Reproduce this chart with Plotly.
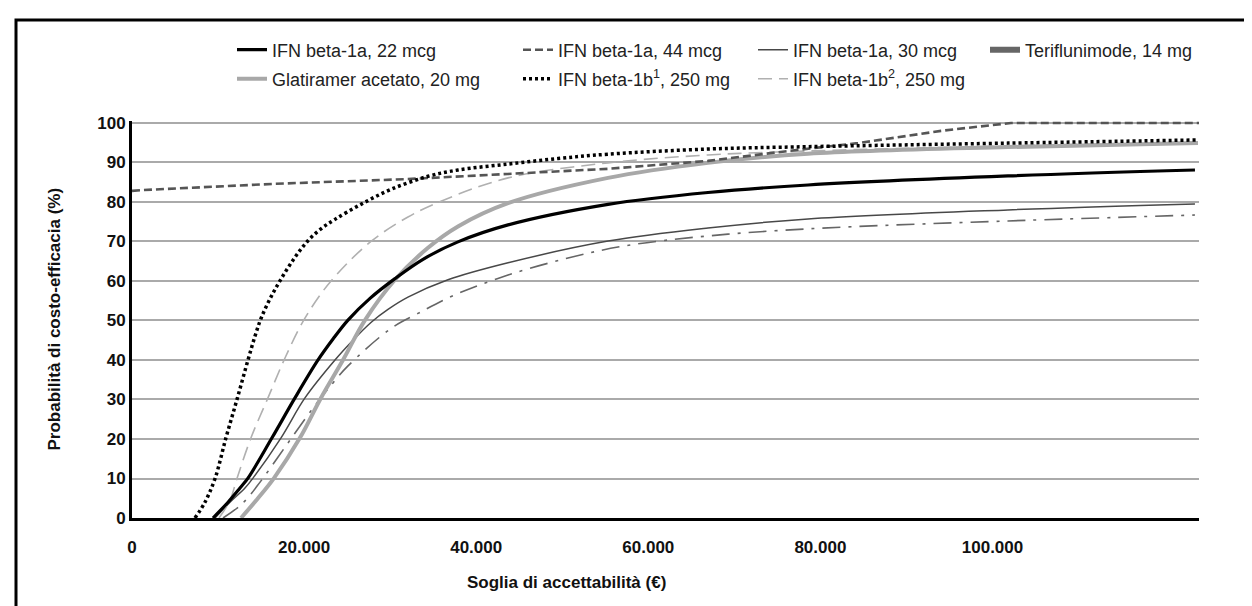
import plotly.graph_objects as go

# ---- data (x = soglia in €, y = probabilità in %) ----
x_b1a22 = [9410, 11160, 12550, 13480, 16270, 18940, 21620, 23360, 25100, 27660, 30560, 33820, 37880, 43700, 55320, 66940, 78560, 101800, 123530]
y_b1a22 = [0, 4, 7.6, 10.1, 20.3, 30.4, 40, 45.3, 50.1, 55.6, 60.6, 65.5, 69.9, 74.2, 79.4, 82.4, 84.3, 86.6, 88.1]

x_b1a44 = [0, 1050, 16620, 32070, 43700, 55320, 66940, 76230, 84370, 94020, 102150, 124000]
y_b1a44 = [82.8, 83.0, 84.6, 85.8, 87.1, 88.4, 90.4, 92.9, 94.9, 98, 100, 100]

x_b1a30 = [9650, 11390, 13130, 14060, 17320, 20100, 23590, 25680, 27770, 29750, 32070, 36720, 43700, 55320, 66940, 78560, 101800, 123530]
y_b1a30 = [0, 4, 7.6, 10.1, 20.3, 30.4, 40, 45, 49.5, 52.8, 55.9, 60.3, 64.6, 70.1, 73.4, 75.7, 78, 79.5]

x_teri = [10580, 12900, 14990, 18130, 21030, 23360, 25100, 30100, 33240, 37540, 43700, 50670, 57290, 66940, 78560, 101800, 123530]
y_teri = [0, 3.8, 9.4, 19, 27.8, 34.2, 38.5, 48.0, 51.8, 56.5, 61.5, 65.8, 68.9, 71.4, 73.2, 75.2, 76.7]

x_glat = [12670, 14640, 16500, 19520, 21960, 24520, 27080, 30560, 34400, 37880, 43700, 55320, 66940, 78560, 101800, 123880]
y_glat = [0, 5, 10.1, 20.3, 30.4, 40, 50.1, 60.3, 68.4, 73.8, 79.7, 86.1, 89.9, 92.2, 93.9, 94.9]

x_b1b1 = [7320, 8480, 9650, 10920, 12200, 13480, 14290, 14990, 16040, 17320, 18940, 20450, 21960, 23590, 26610, 30100, 34400, 37880, 43700, 49510, 55320, 66940, 78560, 101800, 123880]
y_b1b1 = [0, 4, 10, 20.3, 30, 40, 46, 50.5, 55.5, 60.5, 66, 70.2, 73.2, 75.6, 79.4, 83.2, 86.5, 88.1, 89.6, 91.0, 92.1, 93.4, 94.0, 94.9, 95.7]

x_b1b2 = [10110, 11390, 12200, 13830, 15800, 17780, 20100, 23130, 27770, 32070, 35910, 43700, 55320, 66940, 78560, 101800, 123880]
y_b1b2 = [0, 4.5, 10, 20.3, 30.4, 40.5, 50.6, 60, 70, 76.2, 80.2, 86.1, 89.9, 91.9, 92.9, 94.2, 95.2]

x_tickvals = [0, 20000, 40000, 60000, 80000, 100000]
x_ticktext = ["0", "20.000", "40.000", "60.000", "80.000", "100.000"]
y_tickvals = [0, 10, 20, 30, 40, 50, 60, 70, 80, 90, 100]

FONT = "Liberation Sans"

fig = go.Figure()

def add(x, y, name, color, width, dash, legend, shape="spline", showlegend=True):
    fig.add_trace(go.Scatter(
        x=x, y=y, mode="lines", name=name,
        line=dict(color=color, width=width, dash=dash, shape=shape,
                  smoothing=1.0 if shape == "spline" else None),
        legend=legend, showlegend=showlegend, hoverinfo="skip"))

# drawing order: back to front
add(x_teri, y_teri, "Teriflunimode, 14 mg (curve)", "#666666", 1.6, "18px,8px,3px,8px", "legend4", showlegend=False)
add(x_b1a30, y_b1a30, "IFN beta-1a, 30 mcg", "#484848", 1.5, "solid", "legend3")
add(x_b1b2, y_b1b2, "IFN beta-1b<sup>2</sup>, 250 mg", "#b0b0b0", 1.6, "14px,7px", "legend7")
add(x_glat, y_glat, "Glatiramer acetato, 20 mg", "#a8a8a8", 4, "solid", "legend5")
add(x_b1a22, y_b1a22, "IFN beta-1a, 22 mcg", "#000000", 3.2, "solid", "legend")
add(x_b1a44, y_b1a44, "IFN beta-1a, 44 mcg", "#555555", 2.6, "8px,4px", "legend2", shape="linear")
add(x_b1b1, y_b1b1, "IFN beta-1b<sup>1</sup>, 250 mg", "#000000", 3.5, "3px,3px", "legend6")
# legend entry for Teriflunimode
fig.add_trace(go.Scatter(x=[None], y=[None], mode="lines", name="Teriflunimode, 14 mg",
                         line=dict(color="#666666", width=6), legend="legend4", hoverinfo="skip"))

L, R, T, B = 124, 61, 113, 96
W, H = 1252, 606
pw, ph = W - L - R, H - T - B

def px2paper_x(px):
    return (px - L) / pw

def py2paper_y(py):
    return (H - B - py) / ph

leg_font = dict(family=FONT, size=18, color="#222222")
legend_cols = [224, 510, 745, 977]
row_y = [42, 71]
legend_pos = {
    "legend": (legend_cols[0], row_y[0]),
    "legend2": (legend_cols[1], row_y[0]),
    "legend3": (legend_cols[2], row_y[0]),
    "legend4": (legend_cols[3], row_y[0]),
    "legend5": (legend_cols[0], row_y[1]),
    "legend6": (legend_cols[1], row_y[1]),
    "legend7": (legend_cols[2], row_y[1]),
}
leg_layout = {}
for k, (lx, ly) in legend_pos.items():
    leg_layout[k] = dict(x=px2paper_x(lx), y=py2paper_y(ly), xanchor="left", yanchor="middle",
                         bgcolor="rgba(0,0,0,0)", borderwidth=0, font=leg_font,
                         itemclick=False, itemdoubleclick=False)

fig.update_layout(
    width=W, height=H,
    margin=dict(l=L, r=R, t=T, b=B, pad=0),
    paper_bgcolor="white", plot_bgcolor="white",
    font=dict(family=FONT, color="#111111"),
    **leg_layout,
    xaxis=dict(range=[0, 124000], tickvals=x_tickvals, ticktext=x_ticktext,
               showgrid=False, zeroline=False, showline=True, linecolor="black", linewidth=3,
               ticks="", ticklabelstandoff=12,
               tickfont=dict(family=FONT, size=17, color="#111111", weight="bold")),
    yaxis=dict(range=[0, 100.5], tickvals=y_tickvals,
               showgrid=True, gridcolor="#aaaaaa", gridwidth=2, zeroline=False,
               showline=True, linecolor="black", linewidth=3, ticks="",
               tickfont=dict(family=FONT, size=17, color="#111111", weight="bold")),
    annotations=[
        dict(text="<b>Soglia di accettabilità (€)</b>", xref="paper", yref="paper",
             x=px2paper_x(558), y=py2paper_y(574), showarrow=False,
             xanchor="center", yanchor="middle", font=dict(family=FONT, size=17, color="#111111")),
        dict(text="<b>Probabilità di costo-efficacia (%)</b>", xref="paper", yref="paper",
             x=px2paper_x(46), y=0.5, showarrow=False, textangle=-90,
             xanchor="center", yanchor="middle", font=dict(family=FONT, size=17, color="#111111")),
    ],
    shapes=[dict(type="rect", xref="paper", yref="paper",
                 x0=px2paper_x(8), x1=px2paper_x(1300), y0=py2paper_y(700), y1=py2paper_y(12),
                 line=dict(color="black", width=3), fillcolor="rgba(0,0,0,0)", layer="below")],
)

fig.write_html("out.html")
